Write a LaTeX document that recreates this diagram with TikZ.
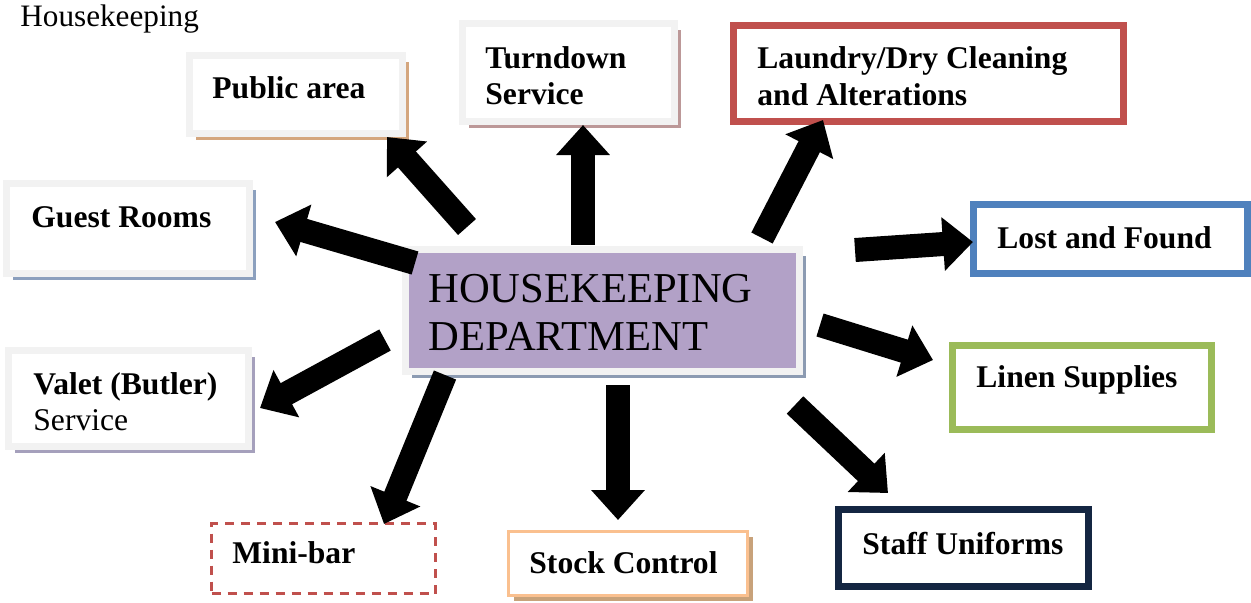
\documentclass[tikz,border=0pt]{standalone}
\usepackage{fontspec}
\setmainfont{Liberation Serif}
\usetikzlibrary{arrows.meta,positioning,fit,shadows}

\definecolor{framegrey}{RGB}{242,242,242}
\definecolor{hkpurple}{RGB}{178,161,199}
\definecolor{shtan}{RGB}{212,166,126}
\definecolor{shrose}{RGB}{188,152,152}
\definecolor{shblue}{RGB}{140,160,190}
\definecolor{shlilac}{RGB}{165,160,188}
\definecolor{shcentre}{RGB}{140,155,178}
\definecolor{shstock}{RGB}{200,162,122}
\definecolor{bred}{RGB}{192,80,77}
\definecolor{bblue}{RGB}{79,129,189}
\definecolor{bgreen}{RGB}{155,187,89}
\definecolor{bnavy}{RGB}{20,38,66}
\definecolor{bpeach}{RGB}{250,192,143}

\begin{document}
\begin{tikzpicture}[x=0.5pt, y=-0.5pt,
  lbl/.style={anchor=west, inner sep=0pt, align=left,
              font=\fontsize{15.8}{18}\selectfont\bfseries},
  greybox/.style={draw=framegrey, line width=3.5pt, fill=white, inner sep=0pt,
              drop shadow={shadow xshift=3.25pt, shadow yshift=-3.25pt,
                           fill=#1, opacity=1}},
  colbox/.style={draw=#1, line width=3.5pt, fill=white, inner sep=0pt},
  bigarrow/.style={line width=12pt, -{Triangle[length=15pt, width=26pt]}}]

\useasboundingbox (0,0) rectangle (1251,602);

\node[anchor=west, inner sep=0pt, font=\fontsize{15.6}{18}\selectfont] (title) at (20,19) {Housekeeping};

% boxes round the centre
\node[greybox=shtan,   fit={(189.5,55.5) (402.5,133.5)}] (pub) {};
\node[greybox=shrose,  fit={(462.5,23.5) (674.5,121.5)}] (turn) {};
\node[greybox=shblue,  fit={(6.5,183.5) (249.5,273.5)}] (guest) {};
\node[greybox=shlilac, fit={(8.5,350.5) (248.5,446.5)}] (valet) {};
\node[colbox=bred,   fit={(733.5,25.5) (1123.5,121.5)}] (laundry) {};
\node[colbox=bblue,  fit={(973.5,204.5) (1247.5,273.5)}] (lost) {};
\node[colbox=bgreen, fit={(952.5,345.5) (1211.5,429.5)}] (linen) {};
\node[colbox=bnavy,  fit={(838.5,509.5) (1088.5,586.5)}] (staff) {};
\node[draw=bpeach, line width=1.5pt, fill=white, inner sep=0pt,
      drop shadow={shadow xshift=2.75pt, shadow yshift=-2.75pt, fill=shstock, opacity=1},
      fit={(508.5,531.5) (747.5,595.5)}] (stock) {};
\node[draw=bred, line width=1.5pt, dash pattern=on 4.5pt off 3.5pt, fill=white, inner sep=0pt,
      fit={(211.5,523.5) (435.5,593.5)}] (minibar) {};

% centre box
\node[greybox=shcentre, fill=hkpurple, fit={(405.5,249) (799.5,371.5)}] (hk) {};

% labels
\node[lbl] (pub-t)     at (212,88)    {Public area};
\node[lbl] (turn-t)    at (485,76)    {Turndown\\Service};
\node[lbl, font=\fontsize{15.8}{18.5}\selectfont\bfseries] (laundry-t) at (757,76.5) {Laundry/Dry Cleaning\\and Alterations};
\node[lbl] (guest-t)   at (31,217)    {Guest Rooms};
\node[lbl] (lost-t)    at (997,238)   {Lost and Found};
\node[lbl] (linen-t)   at (976,380)   {Linen Supplies};
\node[lbl] (staff-t)   at (862,544)   {Staff Uniforms};
\node[lbl] (stock-t)   at (529,563)   {Stock Control};
\node[lbl] (minibar-t) at (232,553)   {Mini-bar};
\node[lbl] (valet-t)   at (33,402)    {Valet (Butler)\\\mdseries Service};
\node[lbl, font=\fontsize{21.3}{24}\selectfont] (hk-t) at (428,312) {HOUSEKEEPING\\DEPARTMENT};

% arrow ends
\foreach \n/\x/\y in {pub-s/467/227, pub-e/387/137,
                      turn-s/583/245, turn-e/583/125,
                      laundry-s/762/238, laundry-e/823/120,
                      guest-s/415/263, guest-e/275/222,
                      lost-s/855/250, lost-e/973/242,
                      linen-s/820/325, linen-e/933/360,
                      staff-s/795/405, staff-e/888/493,
                      stock-s/618/385, stock-e/618/520,
                      minibar-s/445/375, minibar-e/384/524,
                      valet-s/385/340, valet-e/260/408}
  \coordinate (\n) at (\x,\y);

\foreach \b in {pub,turn,laundry,guest,lost,linen,staff,stock,minibar,valet}
  \draw[bigarrow] (\b-s) -- (\b-e);

\end{tikzpicture}
\end{document}
